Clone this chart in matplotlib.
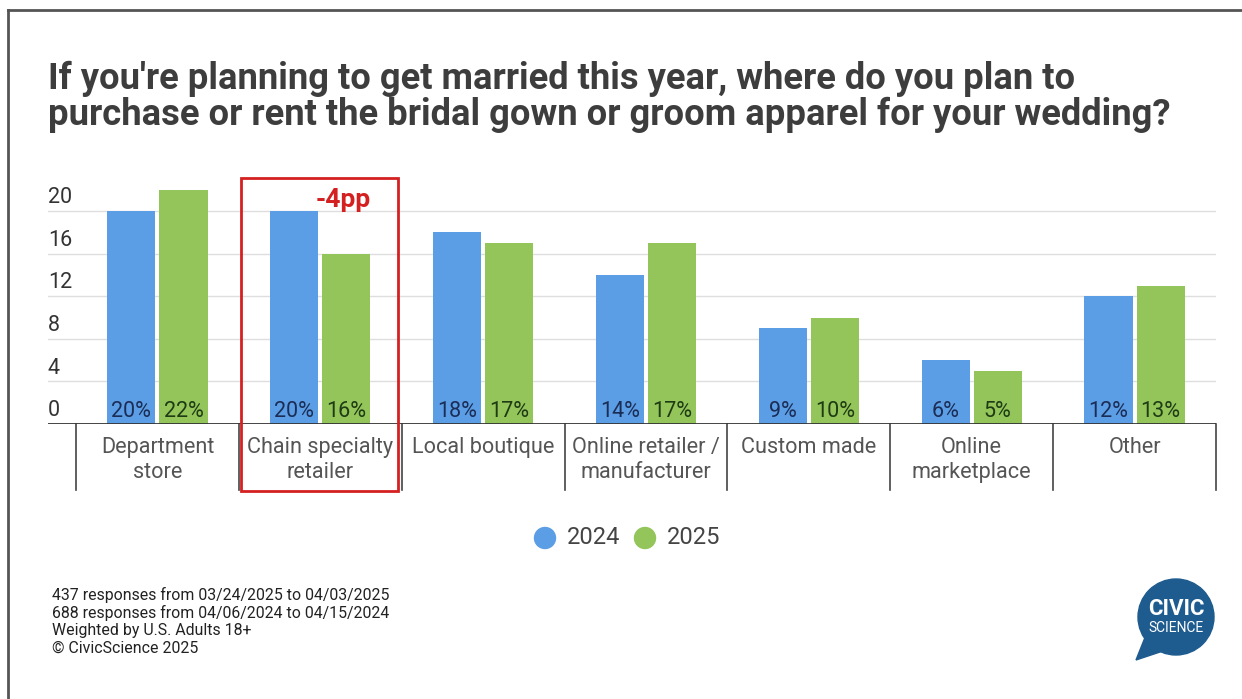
import numpy as np
import matplotlib.pyplot as plt
from matplotlib.lines import Line2D
from matplotlib.patches import Rectangle, Circle, Ellipse, Polygon

plt.rcParams['font.family'] = ['Roboto', 'DejaVu Sans']

categories = ["Department\nstore", "Chain specialty\nretailer", "Local boutique",
              "Online retailer /\nmanufacturer", "Custom made",
              "Online\nmarketplace", "Other"]
vals_2024 = [20, 20, 18, 14, 9, 6, 12]
vals_2025 = [22, 16, 17, 17, 10, 5, 13]
years = ["2024", "2025"]
yticks = [0, 4, 8, 12, 16, 20]

BLUE = "#5b9ee6"
GREEN = "#93c55a"
W, H = 1242, 699

fig = plt.figure(figsize=(W / 100, H / 100), dpi=100)
fig.patch.set_facecolor("white")

# axes: left edge at gridline start, categories start a bit further right
ax = fig.add_axes([48 / W, (H - 424) / H, 1168 / W, 255.6 / H])
cat_w = 162.7
ax.set_xlim(-0.5 - 28 / cat_w, 6.5)
ax.set_ylim(0, 24)
for s in ax.spines.values():
    s.set_visible(False)
ax.set_xticks([])
ax.set_yticks([])

for t in yticks[1:]:
    ax.axhline(t, color="#dedede", lw=1, zorder=0)
ax.axhline(0, color="#333333", lw=2, zorder=3)
for t in yticks:
    ax.annotate(str(t), xy=(0, t), xycoords=("axes fraction", "data"),
                xytext=(0, 2), textcoords="offset points",
                ha="left", va="bottom", fontsize=15.5, color="#333333")

x = np.arange(len(categories))
bw = 0.295
off = 0.16
b1 = ax.bar(x - off, vals_2024, bw, color=BLUE, zorder=2)
b2 = ax.bar(x + off, vals_2025, bw, color=GREEN, zorder=2)
for xi, v in zip(x, vals_2024):
    ax.text(xi - off, 0.15, f"{v}%", ha="center", va="bottom", fontsize=15.5,
            color="#1b2d55", zorder=4)
for xi, v in zip(x, vals_2025):
    ax.text(xi + off, 0.15, f"{v}%", ha="center", va="bottom", fontsize=15.5,
            color="#1f3b14", zorder=4)

# category separators and labels
for k in range(len(categories) + 1):
    ax.plot([k - 0.5, k - 0.5], [0, -6.2], color="#444444", lw=1.2, clip_on=False)
for xi, c in zip(x, categories):
    ax.text(xi, -1.2, c, ha="center", va="top", fontsize=15.6, color="#555555",
            linespacing=1.25)

# highlight box
ax.add_patch(Rectangle((0.5 + 2 / cat_w, -6.3), 1 - 6 / cat_w, 29.4, fill=False,
                       edgecolor="#d42020", lw=2, clip_on=False, zorder=5))
ax.text(1.14, 21.0, "-4pp", ha="center", va="center", fontsize=19,
        fontweight="bold", color="#d42020")

# title
fig.text(48 / W, 1 - 61 / H,
         "If you're planning to get married this year, where do you plan to\n"
         "purchase or rent the bridal gown or groom apparel for your wedding?",
         ha="left", va="top", fontsize=26.2, fontweight="bold", color="#3d3d3d",
         linespacing=0.98)

# legend
for cx, col, lab in [(545, BLUE, years[0]), (645, GREEN, years[1])]:
    fig.add_artist(Ellipse((cx / W, 1 - 538 / H), 21 / W, 21 / H, color=col,
                           transform=fig.transFigure))
    fig.text((cx + 22) / W, 1 - 538 / H, lab, ha="left", va="center",
             fontsize=17, color="#444444")

# footer
fig.text(52 / W, 1 - 587 / H,
         "437 responses from 03/24/2025 to 04/03/2025\n"
         "688 responses from 04/06/2024 to 04/15/2024\n"
         "Weighted by U.S. Adults 18+\n"
         "\u00a9 CivicScience 2025",
         ha="left", va="top", fontsize=11.4, color="#222222", linespacing=1.17)

# logo
logo_ax = fig.add_axes([1120 / W, (H - 670) / H, 110 / W, 110 / H])
logo_ax.set_xlim(1120, 1230)
logo_ax.set_ylim(670, 560)
logo_ax.set_aspect("equal")
logo_ax.axis("off")
logo_ax.add_patch(Circle((1176, 617), 38, color="#1e5b8e"))
logo_ax.add_patch(Polygon([[1146, 635], [1136, 660], [1166, 650]], color="#1e5b8e"))
logo_ax.text(1176, 609, "CIVIC", ha="center", va="center", fontsize=16,
             fontweight="bold", color="white")
logo_ax.text(1176, 628, "SCIENCE", ha="center", va="center", fontsize=10,
             color="white")

# frame lines
fig.add_artist(Line2D([8 / W, 1], [1 - 10 / H, 1 - 10 / H], color="#555555", lw=2))
fig.add_artist(Line2D([8 / W, 8 / W], [0, 1 - 10 / H], color="#555555", lw=2))

fig.savefig("out.png", dpi=100)
